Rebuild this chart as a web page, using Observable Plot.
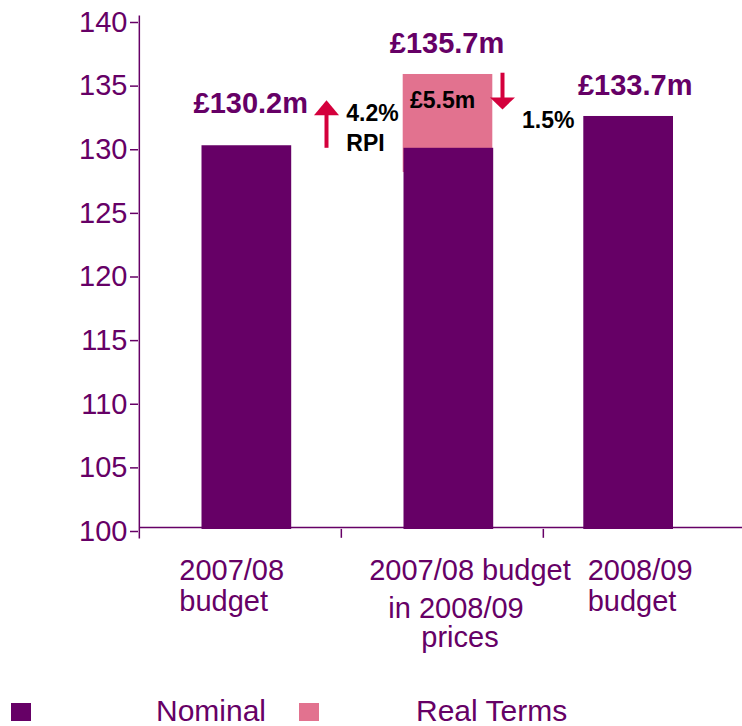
<!DOCTYPE html>
<html>
<head>
<meta charset="utf-8">
<script src="https://cdn.jsdelivr.net/npm/d3@7"></script>
<script src="https://cdn.jsdelivr.net/npm/@observablehq/plot@0.6"></script>
<style>
  body { margin: 0; background: #fff; }
  #chart { width: 742px; }
  #legend { position: relative; width: 742px; height: 36px; font-family: "Liberation Sans", Arial, sans-serif; font-size: 30px; color: #660066; }
  #legend .sw { position: absolute; }
  #legend .lb { position: absolute; line-height: 30px; white-space: nowrap; }
</style>
</head>
<body>
<div id="chart"></div>
<div id="legend"></div>
<script>
// ---- data ----
const cats = ["2007/08 budget", "2007/08 budget in 2008/09 prices", "2008/09 budget"];
const nominal = [130.0, 129.8, 132.3];
const realTermsLow = [null, 127.9, null];
const realTermsHigh = [null, 135.6, null];
const valueLabels = ["£130.2m", "£135.7m", "£133.7m"];
const changeLabels = ["4.2%", "RPI", "£5.5m", "1.5%"];
const catLines = [["2007/08", "budget"], ["2007/08 budget", "in 2008/09", "prices"], ["2008/09", "budget"]];
const yTicks = [100, 105, 110, 115, 120, 125, 130, 135, 140];
const legendLabels = ["Nominal", "Real Terms"];

// ---- styles ----
const purple = "#660066";
const pink = "#E2728F";
const red = "#D4003C";
const font = "Liberation Sans, Arial, sans-serif";
const half = (745 - 138) / 3 / 2;

const nominalRows = cats.map((c, i) => ({cat: c, base: yTicks[0], value: nominal[i]}));
const realRows = cats.map((c, i) => ({cat: c, lo: realTermsLow[i], hi: realTermsHigh[i]})).filter(d => d.hi != null);

const txt = (cat, y, text, dx, o = {}) =>
  Plot.text([text], {x: () => cat, y: () => y, text: d => d, dx, lineAnchor: "middle", fontFamily: font, ...o});

const valStyle = {fill: purple, fontWeight: "bold", fontSize: 29};
const chgStyle = {fill: "#000", fontWeight: "bold", fontSize: 23, textAnchor: "start"};
const catStyle = {fill: purple, fontSize: 29};

const upHead = {draw(ctx) { ctx.moveTo(0, -15); ctx.lineTo(12.5, 0); ctx.lineTo(-12.5, 0); ctx.closePath(); }};
const downHead = {draw(ctx) { ctx.moveTo(0, 12); ctx.lineTo(12.5, 0); ctx.lineTo(-12.5, 0); ctx.closePath(); }};

const chart = Plot.plot({
  width: 742,
  height: 690,
  marginLeft: 138,
  marginRight: 0,
  marginTop: 18,
  marginBottom: 163,
  style: {background: "#fff", color: purple, fontFamily: font},
  x: {type: "band", domain: cats, range: [138, 745], padding: 0, axis: null},
  y: {domain: [100, 140]},
  marks: [
    Plot.barY(realRows, {x: "cat", y1: "lo", y2: "hi", fill: pink, insetLeft: 61.7, insetRight: 50.7}),
    Plot.barY(nominalRows.slice(0, 2), {x: "cat", y1: "base", y2: "value", fill: purple, insetLeft: 62.5, insetRight: 49.8, insetBottom: -2}),
    Plot.barY(nominalRows.slice(2), {x: "cat", y1: "base", y2: "value", fill: purple, insetLeft: 40.3, insetRight: 72, insetBottom: -2}),
    Plot.ruleY([100], {stroke: purple, strokeWidth: 1.5, insetLeft: 2}),
    Plot.ruleX([cats[0]], {x: d => d, dx: -half, y1: 99.1, y2: 140.2, stroke: purple, strokeWidth: 1.5}),
    Plot.ruleX(cats.slice(1), {x: d => d, dx: -half, y1: 99.85, y2: 99.15, stroke: purple, strokeWidth: 1.5}),
    Plot.axisY({ticks: yTicks, tickSize: 8, tickPadding: 3, fontSize: 29, dy: 4, label: null, stroke: purple, fill: purple, strokeWidth: 1.5}),
    // value labels
    txt(cats[0], 133.32, valueLabels[0], 10.3, valStyle),
    txt(cats[1], 138.04, valueLabels[1], 4.5, valStyle),
    txt(cats[2], 134.73, valueLabels[2], -9.3, valStyle),
    // change labels
    txt(cats[0], 132.5, changeLabels[0], 105.8, chgStyle),
    txt(cats[0], 130.14, changeLabels[1], 105.8, chgStyle),
    txt(cats[1], 133.52, changeLabels[2], -32.5, chgStyle),
    txt(cats[1], 131.94, changeLabels[3], 79.5, chgStyle),
    // arrows
    Plot.ruleX([0], {x: () => cats[0], y1: 129.8, y2: 132.5, dx: 86, stroke: red, strokeWidth: 4}),
    Plot.dot([0], {x: () => cats[0], y: () => 132.4, dx: 86, symbol: upHead, fill: red, stroke: "none"}),
    Plot.ruleX([0], {x: () => cats[1], y1: 135.7, y2: 133.7, dx: 60, stroke: red, strokeWidth: 4}),
    Plot.dot([0], {x: () => cats[1], y: () => 133.8, dx: 60, symbol: downHead, fill: red, stroke: "none"}),
    // category labels
    txt(cats[0], 96.62, catLines[0][0], -61.2, {...catStyle, textAnchor: "start"}),
    txt(cats[0], 94.2, catLines[0][1], -61.2, {...catStyle, textAnchor: "start"}),
    txt(cats[1], 96.62, catLines[1][0], 27.5, catStyle),
    txt(cats[1], 93.6, catLines[1][1], 13.5, catStyle),
    txt(cats[1], 91.3, catLines[1][2], 17.5, catStyle),
    txt(cats[2], 96.62, catLines[2][0], -56.8, {...catStyle, textAnchor: "start"}),
    txt(cats[2], 94.2, catLines[2][1], -56.8, {...catStyle, textAnchor: "start"})
  ]
});
document.getElementById("chart").appendChild(chart);

// legend
const legend = document.getElementById("legend");
const legendColors = [purple, pink];
const swLeft = [11, 299];
const lbLeft = [156, 416];
legendLabels.forEach((l, i) => {
  const sw = document.createElement("div");
  sw.className = "sw";
  sw.style.cssText = `left:${swLeft[i]}px;top:13px;width:20px;height:18px;background:${legendColors[i]}`;
  legend.appendChild(sw);
  const lb = document.createElement("div");
  lb.className = "lb";
  lb.style.cssText = `left:${lbLeft[i]}px;top:6px`;
  lb.textContent = l;
  legend.appendChild(lb);
});
</script>
</body>
</html>
